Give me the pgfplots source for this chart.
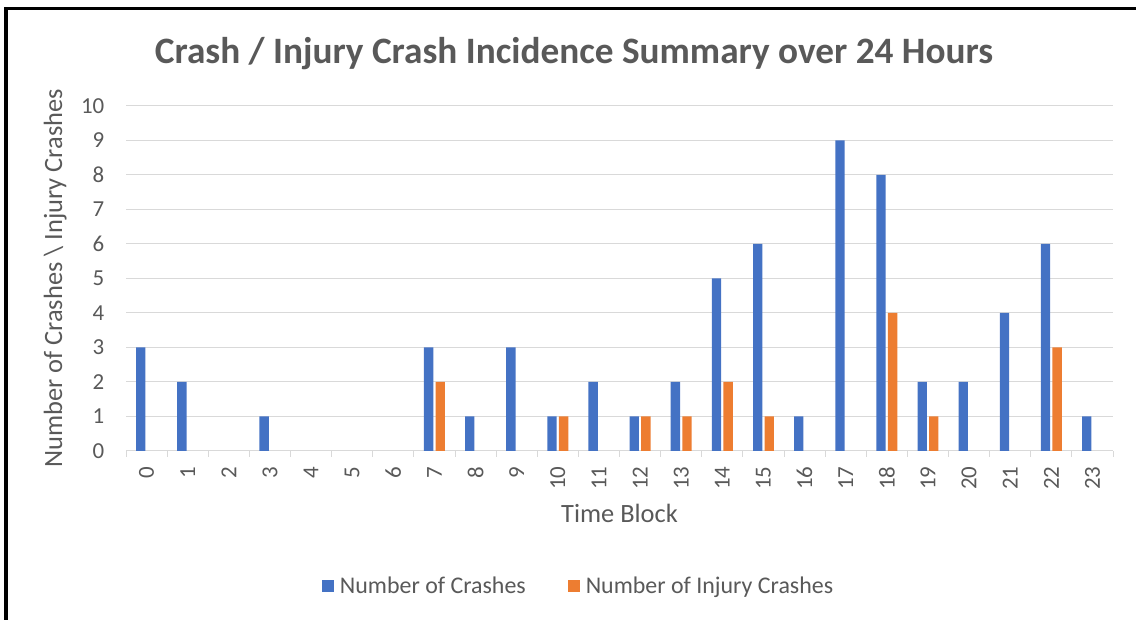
\documentclass[border=0pt]{standalone}
\usepackage{pgfplots}
\pgfplotsset{compat=1.18}
\usepackage{fontspec}
\setmainfont{Carlito}
\definecolor{cblue}{HTML}{4472C4}
\definecolor{corange}{HTML}{ED7D31}
\definecolor{ctext}{HTML}{595959}
\definecolor{cgrid}{HTML}{D9D9D9}
\begin{document}
\begin{tikzpicture}[x=1bp,y=1bp]
\path[use as bounding box] (0,0) rectangle (1136,620);
\draw[black, line width=3.5bp] (6,0) -- (6,611.5) -- (1136,611.5);
\node[text=ctext, font=\fontsize{37.4}{44}\selectfont\bfseries, anchor=base] at (574,556) {Crash / Injury Crash Incidence Summary over 24 Hours};
\begin{axis}[
  at={(126bp,169bp)}, anchor=south west,
  scale only axis, width=987bp, height=345bp,
  xmin=-0.5, xmax=23.5, ymin=0, ymax=10,
  ytick={0,...,10},
  xtick={0,...,23},
  minor xtick={-0.5,0.5,...,23.5},
  tick align=outside,
  major x tick style={draw=none},
  y tick style={draw=none},
  minor x tick style={cgrid, line width=1bp},
  minor tick length=6bp,
  axis x line*=bottom,
  axis y line*=left,
  y axis line style={draw=none},
  x axis line style={cgrid, line width=1bp, -},
  ymajorgrids, grid style={cgrid, line width=1bp},
  /pgf/number format/assume math mode=true,
  ticklabel style={text=ctext, font=\fontsize{23}{27}\selectfont},
  xticklabel style={rotate=90, anchor=east},
  xticklabel shift={8bp},
  yticklabel style={anchor=east},
  yticklabel shift={14bp},
  xlabel={Time Block},
  ylabel={Number of Crashes \textbackslash{} Injury Crashes},
  label style={text=ctext, font=\fontsize{26.5}{31}\selectfont},
  xlabel style={at={(axis description cs:0.5,-0.2087)}, anchor=base},
  ylabel style={at={(axis description cs:-0.0648,0.5)}, anchor=base},
  bar width=9.3bp,
  legend style={at={(0.4585,-0.391)}, anchor=center, draw=none, legend columns=2,
    font=\fontsize{24}{28}\selectfont, text=ctext,
    /tikz/every even column/.append style={column sep=40bp}},
  legend image code/.code={\fill[#1] (0bp,-6bp) rectangle (12bp,6bp); \path (16bp,0bp);},
]
\addplot[ybar, fill=cblue, draw=none, bar shift=-5.8bp] coordinates {
(0,3) (1,2) (3,1) (7,3) (8,1) (9,3) (10,1) (11,2)
(12,1) (13,2) (14,5) (15,6) (16,1) (17,9) (18,8) (19,2) (20,2) (21,4) (22,6) (23,1)};
\addlegendentry{Number of Crashes}
\addplot[ybar, fill=corange, draw=none, bar shift=5.8bp] coordinates {
(7,2) (10,1) (12,1) (13,1) (14,2) (15,1) (18,4) (19,1) (22,3)};
\addlegendentry{Number of Injury Crashes}
\end{axis}
\end{tikzpicture}
\end{document}
